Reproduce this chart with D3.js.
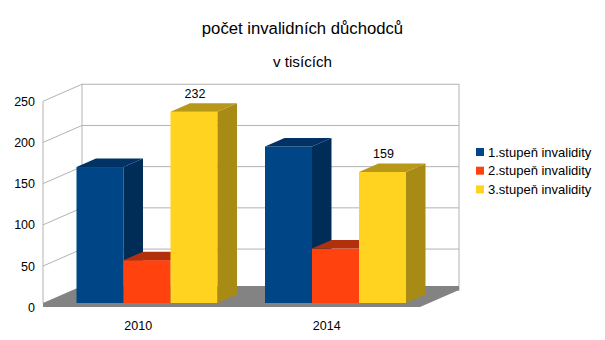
<!DOCTYPE html>
<html>
<head>
<meta charset="utf-8">
<script src="https://cdn.jsdelivr.net/npm/d3@7"></script>
<style>
  html, body { margin: 0; padding: 0; background: #ffffff; }
  svg { display: block; font-family: "Liberation Sans", Arial, sans-serif; }
</style>
</head>
<body>
<svg id="chart" width="605" height="340"></svg>
<script>
// ---- data ----
const title = "počet invalidních důchodců";
const subtitle = "v tisících";
const categories = ["2010", "2014"];
const seriesNames = ["1.stupeň invalidity", "2.stupeň invalidity", "3.stupeň invalidity"];
const series1 = [165, 190];
const series2 = [52, 66];
const series3 = [232, 159];
const labeledSeries = [false, false, true];
const yTicks = [0, 50, 100, 150, 200, 250];

// ---- styles ----
const frontColors = ["#004586", "#ff420e", "#ffd320"];
const sideColors  = ["#002d58", "#a82c0a", "#a88b15"];
const topColors   = ["#003266", "#b3300c", "#b89818"];
const gridColor = "#b3b3b3";
const floorColor = "#838383";

const svg = d3.select("#chart");

// ---- geometry (oblique 3D projection) ----
const depthX = 39, depthY = -17;           // full depth vector of the box
const barD0 = 0.25, barD1 = 0.75;          // bar depth span (fraction)
const x0 = d3.scaleBand().domain(categories).range([43, 420]).paddingInner(0.252).paddingOuter(0.126);
const x1 = d3.scaleBand().domain(d3.range(seriesNames.length)).range([0, x0.bandwidth()]).padding(0);
const y = d3.scaleLinear().domain([0, 250]).range([307.25, 101.25]);

const data = categories.map((c, i) => [series1[i], series2[i], series3[i]]);

// ---- back wall ----
const bx0 = x0.range()[0] + depthX, bx1 = x0.range()[1] + depthX;
svg.append("rect")
  .attr("x", bx0).attr("y", y(250) + depthY)
  .attr("width", bx1 - bx0).attr("height", y(0) - y(250))
  .attr("fill", "#ffffff").attr("stroke", gridColor).attr("stroke-width", 1);
svg.selectAll(".bgrid").data(yTicks.filter(t => t > 0 && t < 250)).enter().append("line")
  .attr("x1", bx0).attr("x2", bx1)
  .attr("y1", d => y(d) + depthY).attr("y2", d => y(d) + depthY)
  .attr("stroke", gridColor).attr("stroke-width", 1);

// ---- left wall ----
const lx = x0.range()[0];
svg.append("line").attr("x1", lx).attr("x2", lx)
  .attr("y1", y(250)).attr("y2", y(0) - 4)
  .attr("stroke", gridColor).attr("stroke-width", 1);
svg.selectAll(".lgrid").data(yTicks.filter(t => t > 0)).enter().append("line")
  .attr("x1", lx).attr("x2", lx + depthX)
  .attr("y1", d => y(d)).attr("y2", d => y(d) + depthY)
  .attr("stroke", gridColor).attr("stroke-width", 1);

// ---- floor slab ----
const fTop = y(0) + depthY * barD0;   // top front edge of floor
const fx0 = x0.range()[0], fx1 = x0.range()[1];
const thick = 4;
svg.append("polygon")
  .attr("points", [
    [fx0, fTop], [fx0 + depthX, fTop + depthY], [fx1 + depthX, fTop + depthY],
    [fx1 + depthX, fTop + depthY + thick], [fx1, fTop + thick], [fx0, fTop + thick]
  ].map(p => p.join(",")).join(" "))
  .attr("fill", floorColor);

// ---- bars ----
const ox = depthX * barD0, oy = depthY * barD0;
const sdx = depthX * (barD1 - barD0), sdy = depthY * (barD1 - barD0);
categories.forEach((c, ci) => {
  const g = svg.append("g");
  data[ci].forEach((v, si) => {
    const xl = x0(c) + x1(si) + ox;
    const w = x1.bandwidth();
    const yt = y(v) + oy, yb = y(0) + oy;
    g.append("rect").attr("x", xl).attr("y", yt).attr("width", w).attr("height", yb - yt)
      .attr("fill", frontColors[si]);
    g.append("polygon")
      .attr("points", [[xl + w, yt], [xl + w + sdx, yt + sdy], [xl + w + sdx, yb + sdy], [xl + w, yb]].map(p => p.join(",")).join(" "))
      .attr("fill", sideColors[si]);
    g.append("polygon")
      .attr("points", [[xl, yt], [xl + sdx, yt + sdy], [xl + w + sdx, yt + sdy], [xl + w, yt]].map(p => p.join(",")).join(" "))
      .attr("fill", topColors[si]);
    if (labeledSeries[si]) {
      g.append("text").attr("x", xl + w / 2 + 1).attr("y", yt + sdy - 5)
        .attr("text-anchor", "middle").attr("font-size", "12.5px").attr("fill", "#000")
        .text(v);
    }
  });
});

// ---- axes labels ----
svg.selectAll(".ytick").data(yTicks).enter().append("text")
  .attr("x", 35).attr("y", d => y(d) + 4.5)
  .attr("text-anchor", "end").attr("font-size", "12.5px").attr("fill", "#000")
  .text(d => d);
svg.selectAll(".xtick").data(categories).enter().append("text")
  .attr("x", d => x0(d) + x0.bandwidth() / 2 + 1).attr("y", 330)
  .attr("text-anchor", "middle").attr("font-size", "12.5px").attr("fill", "#000")
  .text(d => d);

// ---- titles ----
svg.append("text").attr("x", 302.5).attr("y", 33.5).attr("text-anchor", "middle")
  .attr("font-size", "16.7px").attr("fill", "#000").text(title);
svg.append("text").attr("x", 302.5).attr("y", 67.3).attr("text-anchor", "middle")
  .attr("font-size", "15.2px").attr("fill", "#000").text(subtitle);

// ---- legend ----
const legend = svg.append("g");
seriesNames.forEach((n, i) => {
  const cy = 152 + i * 18.7;
  legend.append("rect").attr("x", 476).attr("y", cy - 4).attr("width", 8).attr("height", 8)
    .attr("fill", frontColors[i]);
  legend.append("text").attr("x", 488).attr("y", cy + 4.5)
    .attr("font-size", "13px").attr("fill", "#000").text(n);
});
</script>
</body>
</html>
